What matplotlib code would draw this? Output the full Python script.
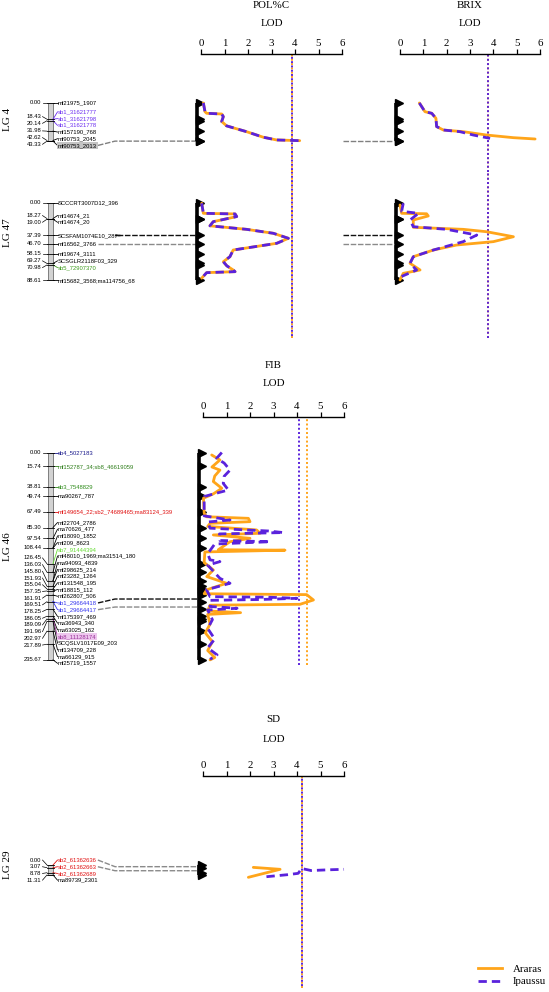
import matplotlib
matplotlib.use("Agg")
from matplotlib import pyplot as plt
from matplotlib import transforms
from matplotlib.patches import Rectangle
from matplotlib.lines import Line2D
import numpy as np

plt.rcParams['font.family'] = ['Liberation Serif', 'DejaVu Serif']

# ---------------- linkage map data ----------------
lg4_names = ['mf21975_1907', 'sb1_31621777', 'sb1_31621798', 'sb1_31621778',
             'mf157190_768', 'mf90753_2045', 'mf90753_2013']
lg4_cm = [0.00, 18.43, 18.43, 20.14, 31.98, 42.62, 43.33]

lg47_names = ['SCCCRT3007D12_396', 'mf14674_21', 'mf14674_20', 'SCSFAM1074E10_287',
              'mf16562_3766', 'mf19674_3111', 'SCSGLR2118F03_329', 'sb5_72907370',
              'mf15682_3568;ma114756_68']
lg47_cm = [0.00, 18.27, 19.00, 37.39, 46.70, 58.15, 69.27, 70.98, 88.61]

lg46_names = ['sb4_5027183', 'mf152787_34;sb8_46619059', 'sb3_7548829', 'ma90267_787',
              'mf149654_22;sb2_74689465;ma83124_339', 'mf22704_2786', 'ma70626_477',
              'mf18090_1852', 'mf209_8623', 'sb7_91444394', 'mf48010_1969;ma31514_180',
              'ma94093_4839', 'mf298625_214', 'mf23282_1264', 'mf131548_195', 'mf18815_112',
              'mf262807_506', 'sb1_29664418', 'sb1_29664417', 'mf175397_469', 'ma36943_340',
              'ma63025_162', 'sb8_11128174', 'SCQSLV1017E09_203', 'mf134709_228',
              'ma66129_915', 'mf25719_1557']
lg46_cm = [0.00, 15.74, 38.81, 49.74, 67.49, 85.30, 97.54, 108.44, 108.44, 126.45,
           136.03, 145.80, 145.80, 151.93, 155.04, 157.35, 161.91, 169.51, 169.51,
           178.25, 186.05, 189.09, 189.09, 191.96, 202.97, 217.89, 235.67]

lg29_names = ['sb2_61362636', 'sb2_61362663', 'sb2_61362689', 'ma89739_2301']
lg29_cm = [0.00, 3.07, 8.78, 11.31]

# ---------------- LOD profiles (cM, LOD) ----------------
lg4_pol_cm = [0, 9.9, 11.7, 12.5, 15.5, 21, 26, 32.6, 38.9, 42, 42.8]
lg4_pol_araras = [0.1, 0.17, 0.24, 0.88, 0.95, 0.88, 1.09, 1.94, 2.65, 3.22, 4.2]
lg4_pol_ipaussu = [0.1, 0.17, 0.24, 0.88, 0.95, 0.88, 1.09, 1.94, 2.65, 3.22, 4.2]

lg4_brix_cm_ar = [0, 9.9, 11.7, 17.4, 26.8, 30.7, 32.6, 36.4, 39.4, 40.9]
lg4_brix_araras = [0.83, 1.07, 1.36, 1.54, 1.57, 1.86, 2.71, 3.71, 4.86, 5.79]
lg4_brix_cm_ip = [0, 9.9, 11.7, 17.4, 26.8, 30.7, 32.6, 36.4, 40.2]
lg4_brix_ipaussu = [0.83, 1.07, 1.36, 1.54, 1.57, 1.86, 2.57, 3.14, 3.86]

lg47_pol_cm = [0.9, 12.3, 13.0, 16.0, 21.8, 26.5, 30.5, 35.0, 40.7, 46.4, 54.0, 61.6,
               67.3, 72.0, 76.7, 78.6, 79.7, 86.0]
lg47_pol_araras = [0.03, 0.1, 1.45, 1.52, 0.52, 0.38, 1.94, 3.08, 3.72, 3.22, 1.37, 1.23,
                   0.95, 1.1, 1.37, 1.45, 0.24, 0.03]
lg47_pol_ipaussu = [0.03, 0.1, 1.45, 1.52, 0.52, 0.38, 1.94, 3.08, 3.72, 3.22, 1.37, 1.23,
                    0.95, 1.1, 1.37, 1.45, 0.24, 0.03]

lg47_brix_cm_ar = [2.8, 12.3, 12.8, 15.3, 19.9, 28.2, 30.5, 33.2, 38.9, 44.5, 48.3, 54.0,
                   61.6, 69.1, 76.7, 80.5, 88.0]
lg47_brix_araras = [0.0, 0.07, 1.14, 1.21, 0.57, 0.57, 2.71, 3.71, 4.86, 4.0, 2.43, 1.43,
                    0.57, 0.43, 0.86, 0.14, 0.0]
lg47_brix_cm_ip = [0.9, 10.0, 12.3, 19.9, 27.5, 30.5, 37.0, 44.5, 54.0, 61.6, 69.1, 76.7, 84.0]
lg47_brix_ipaussu = [0.14, 0.07, 0.79, 0.43, 0.57, 2.0, 3.29, 2.71, 1.43, 0.57, 0.43, 0.71, 0.07]

lg46_fib_cm_ar = [2.8, 8.5, 16.5, 20, 26.7, 33, 40.7, 47, 52, 69, 73, 74.8, 78.6, 80.5, 84,
                  88, 91.8, 93.7, 97.5, 101.4, 110.5, 111, 113, 125, 133.5, 141, 148.6, 156,
                  160.5, 161.5, 167.6, 172.5, 173.5, 180, 182, 184, 195, 205, 215, 225, 233,
                  235.67]
lg46_fib_araras = [0.37, 0.72, 0.38, 0.72, 0.5, 0.44, 0.8, 0.44, 0.02, 0.05, 0.15, 1.93, 2.0,
                   0.3, 0.2, 2.28, 2.43, 0.44, 2.0, 1.15, 0.65, 3.49, 0.08, 0.05, 0.44, 0.16,
                   1.0, 0.16, 0.05, 4.41, 4.7, 4.13, 0.3, 0.2, 1.6, 0.2, 0.3, 0.1, 0.4, 0.2,
                   0.5, 0.3]
lg46_fib_cm_ip = [0, 6.6, 12, 20, 27, 35, 42.6, 50, 72, 76.7, 79, 86, 89.2, 91, 92.5, 100,
                  101.4, 104, 115, 122, 124, 128, 143, 148.6, 156, 163.8, 164.5, 165.7, 167,
                  168, 175, 177, 179, 190, 200, 212, 222, 230, 235]
lg46_fib_ipaussu = [0.8, 0.58, 0.9, 1.15, 0.9, 0.86, 1.08, 0.05, 0.05, 1.15, 0.2, 0.3, 2.78,
                    3.42, 0.7, 0.72, 2.85, 0.5, 0.2, 0.3, 0.72, 0.2, 0.72, 1.15, 0.15, 0.3,
                    2.85, 4.0, 2.5, 0.3, 0.3, 1.45, 0.2, 0.4, 0.2, 0.5, 0.2, 0.6, 0.3]

lg29_sd_cm_ar = [2.7, 4.9, 14.0]
lg29_sd_araras = [2.14, 3.28, 1.93]
lg29_sd_cm_ip = [13.3, 11.0, 9.5, 4.0, 6.3, 5.5, 4.9]
lg29_sd_ipaussu = [2.7, 3.6, 4.05, 4.2, 4.6, 5.3, 6.0]

# significance thresholds
traits = ['POL%C', 'BRIX', 'FIB', 'SD']
thr_araras = [3.88, 3.77, 4.43, 4.2]
thr_ipaussu = [3.88, 3.77, 4.08, 4.2]

# QTL leader lines: marker label -> peak position (cM)
lg4_lead = ['mf90753_2013']
lg4_peak = [43.33]
lg47_lead = ['SCSFAM1074E10_287', 'mf16562_3766']
lg47_peak = [37.39, 46.70]
lg46_lead = ['sb1_29664418', 'sb1_29664417']
lg46_peak = [166.5, 175.6]
lg29_lead = ['sb2_61362636', 'sb2_61362663']
lg29_peak = [1.9, 6.5]

# ---------------- styles ----------------
ORANGE = '#FFA51A'
PURPLE = '#5A22DC'
name_colors = {
    'sb1_31621777': '#6a2cf0', 'sb1_31621798': '#6a2cf0', 'sb1_31621778': '#6a2cf0',
    'sb5_72907370': '#3c9a1c',
    'sb4_5027183': '#1a1a8c', 'mf152787_34;sb8_46619059': '#2e7d1a', 'sb3_7548829': '#2e8b1a',
    'mf149654_22;sb2_74689465;ma83124_339': '#e01010', 'sb7_91444394': '#66dd33',
    'sb1_29664418': '#3333ee', 'sb1_29664417': '#3333ee', 'sb8_11128174': '#993399',
    'sb2_61362636': '#e01010', 'sb2_61362663': '#e01010', 'sb2_61362689': '#e01010',
}
highlight = {'mf90753_2013': '#c4c4c4', 'sb8_11128174': '#eec6ee'}

W, H = 549, 992
PX = 0.88          # pixels per cM
GAP = 6.7          # min label spacing, px
SANS = 'Liberation Sans'

fig = plt.figure(figsize=(W / 100, H / 100), dpi=100)


def px_ax(left, top, width, bottom):
    ax = fig.add_axes([left / W, 1 - bottom / H, width / W, (bottom - top) / H])
    ax.set_facecolor('none')
    for s in ax.spines.values():
        s.set_visible(False)
    ax.set_xticks([])
    ax.set_yticks([])
    return ax


def spread(vals, gap):
    groups = [[v] for v in vals]
    changed = True
    while changed:
        changed = False
        starts = [np.mean(g) - (len(g) - 1) * gap / 2 for g in groups]
        for i in range(len(groups) - 1):
            end_i = starts[i] + (len(groups[i]) - 1) * gap
            if starts[i + 1] - end_i < gap:
                groups[i] = groups[i] + groups.pop(i + 1)
                changed = True
                break
    out = []
    for g in groups:
        s = np.mean(g) - (len(g) - 1) * gap / 2
        out += [s + k * gap for k in range(len(g))]
    return out


rows = [
    dict(lg='LG 4', lgy=119, names=lg4_names, cm=lg4_cm, y0=103, top=54, bottom=172,
         lead=lg4_lead, peak=lg4_peak, lead_cols=['#808080'],
         traits=[('POL%C', lg4_pol_cm, lg4_pol_araras, lg4_pol_cm, lg4_pol_ipaussu),
                 ('BRIX', lg4_brix_cm_ar, lg4_brix_araras, lg4_brix_cm_ip, lg4_brix_ipaussu)]),
    dict(lg='LG 47', lgy=233, names=lg47_names, cm=lg47_cm, y0=202.5, top=172, bottom=338,
         lead=lg47_lead, peak=lg47_peak, lead_cols=['#111111', '#8a8a8a'],
         traits=[('POL%C', lg47_pol_cm, lg47_pol_araras, lg47_pol_cm, lg47_pol_ipaussu),
                 ('BRIX', lg47_brix_cm_ar, lg47_brix_araras, lg47_brix_cm_ip, lg47_brix_ipaussu)]),
    dict(lg='LG 46', lgy=547, names=lg46_names, cm=lg46_cm, y0=452.5, top=417, bottom=665,
         lead=lg46_lead, peak=lg46_peak, lead_cols=['#111111', '#8a8a8a'],
         traits=[('FIB', lg46_fib_cm_ar, lg46_fib_araras, lg46_fib_cm_ip, lg46_fib_ipaussu)]),
    dict(lg='LG 29', lgy=865, names=lg29_names, cm=lg29_cm, y0=865, top=776, bottom=988,
         lead=lg29_lead, peak=lg29_peak, lead_cols=['#8a8a8a', '#8a8a8a'],
         traits=[('SD', lg29_sd_cm_ar, lg29_sd_araras, lg29_sd_cm_ip, lg29_sd_ipaussu)]),
]

col_geom = {'POL%C': (201, 141), 'BRIX': (400, 140), 'FIB': (203, 141), 'SD': (203, 141)}
header_y = {'POL%C': (5, 23), 'BRIX': (5, 23), 'FIB': (365, 383), 'SD': (720, 739)}
done_header = set()
leader_jobs = []

for row in rows:
    ylim = ((row['bottom'] - row['y0']) / PX, (row['top'] - row['y0']) / PX)
    cm = row['cm']
    uniq = sorted(set(cm))
    maxcm = max(cm)

    # ---- left linkage map ----
    mp = px_ax(0, row['top'], 200, row['bottom'])
    mp.set_xlim(0, 200)
    mp.set_ylim(*ylim)
    mp.add_patch(Rectangle((47.5, 0), 5, maxcm, facecolor='#d2d2d2',
                           edgecolor='#6e6e6e', lw=0.6, zorder=2))
    for c in uniq:
        mp.plot([46.5, 53.5], [c, c], color='k', lw=0.6, zorder=3)
    pos_y = spread(uniq, GAP / PX)
    for c, yl in zip(uniq, pos_y):
        mp.text(41.5, yl, f'{c:.2f}', ha='right', va='center', fontsize=4.2,
                family=SANS, color='k')
        mp.plot([42.5, 47], [yl, c], color='k', lw=0.5)
    name_y = spread(list(cm), GAP / PX)
    texts = {}
    for n, c, yn in zip(row['names'], cm, name_y):
        col = name_colors.get(n, 'k')
        bb = None
        if n in highlight:
            bb = dict(facecolor=highlight[n], edgecolor='none', pad=0.6)
        texts[n] = (mp.text(58, yn, n, ha='left', va='center', fontsize=4.2,
                            family=SANS, color=col, bbox=bb), yn)
        mp.plot([53, 57.5], [c, yn], color=col, lw=0.6)
    fig.text(7 / W, 1 - row['lgy'] / H, row['lg'], rotation=90, ha='center',
             va='center', fontsize=8)

    # ---- LOD panels ----
    trait_axes = {}
    for name, cm_ar, lod_ar, cm_ip, lod_ip in row['traits']:
        x0, w = col_geom[name]
        ax = px_ax(x0, row['top'], w, row['bottom'])
        ax.set_xlim(0, 6)
        ax.set_ylim(*ylim)
        trait_axes[name] = ax
        tr = transforms.blended_transform_factory(ax.transAxes, ax.transData)
        ax.plot([-0.03, -0.03], [0, maxcm], color='k', lw=2.6, transform=tr,
                solid_capstyle='butt', clip_on=False)
        ax.plot([-0.004] * len(uniq), uniq, ls='none', marker='>', ms=5.2, color='k',
                transform=tr, clip_on=False)
        ax.plot(lod_ar, cm_ar, color=ORANGE, lw=2.0, clip_on=False,
                solid_joinstyle='round', solid_capstyle='round', zorder=3)
        ax.plot(lod_ip, cm_ip, color=PURPLE, lw=2.0, dashes=(3, 1.8), clip_on=False,
                zorder=4)
        k = traits.index(name)
        off = 1.2 if name in ('POL%C', 'SD') else 0
        ax.axvline(thr_araras[k], color=ORANGE, lw=1.4, dashes=(1, 1.2), zorder=1)
        ax.axvline(thr_ipaussu[k], color=PURPLE, lw=1.4, linestyle=(off, (1, 1.2)),
                   zorder=1)
        if name not in done_header:
            done_header.add(name)
            ax.spines['top'].set_visible(True)
            ax.spines['top'].set_linewidth(1.0)
            ax.xaxis.tick_top()
            ax.set_xticks(range(7))
            ax.tick_params(axis='x', direction='out', length=3.5, width=0.9, pad=1.0,
                           labelsize=7.8)
            hy1, hy2 = header_y[name]
            fig.text((x0 + w / 2) / W, 1 - hy1 / H, name, ha='center', va='center',
                     fontsize=7.8)
            fig.text((x0 + w / 2) / W, 1 - hy2 / H, 'LOD', ha='center', va='center',
                     fontsize=7.8)
    leader_jobs.append((row, mp, texts, trait_axes))

# ---- QTL leader lines (need text extents) ----
fig.canvas.draw()
renderer = fig.canvas.get_renderer()
for row, mp, texts, trait_axes in leader_jobs:
    inv = mp.transData.inverted()
    for n, pk, col in zip(row['lead'], row['peak'], row['lead_cols']):
        t, yn = texts[n]
        bb = t.get_window_extent(renderer)
        xe = inv.transform((bb.x1, bb.y0))[0]
        mp.plot([xe + 1, 115, 197], [yn, pk, pk], color=col, lw=1.0,
                dashes=(4, 1.2), clip_on=False)
        if 'BRIX' in trait_axes:
            bx = trait_axes['BRIX']
            tr = transforms.blended_transform_factory(bx.transAxes, bx.transData)
            bx.plot([-0.41, -0.04], [pk, pk], color=col, lw=1.0, dashes=(4, 1.2),
                    transform=tr, clip_on=False)

handles = [Line2D([], [], color=ORANGE, lw=2.0),
           Line2D([], [], color=PURPLE, lw=2.0, dashes=(3, 1.8))]
fig.legend(handles, ['Araras', 'Ipaussu'], loc='upper left',
           bbox_to_anchor=(478 / W, 1 - 964 / H), frameon=False, fontsize=7.8,
           handlelength=2.2, handletextpad=1.0, labelspacing=0.3, borderpad=0,
           borderaxespad=0)

fig.savefig('out.png', dpi=100)
